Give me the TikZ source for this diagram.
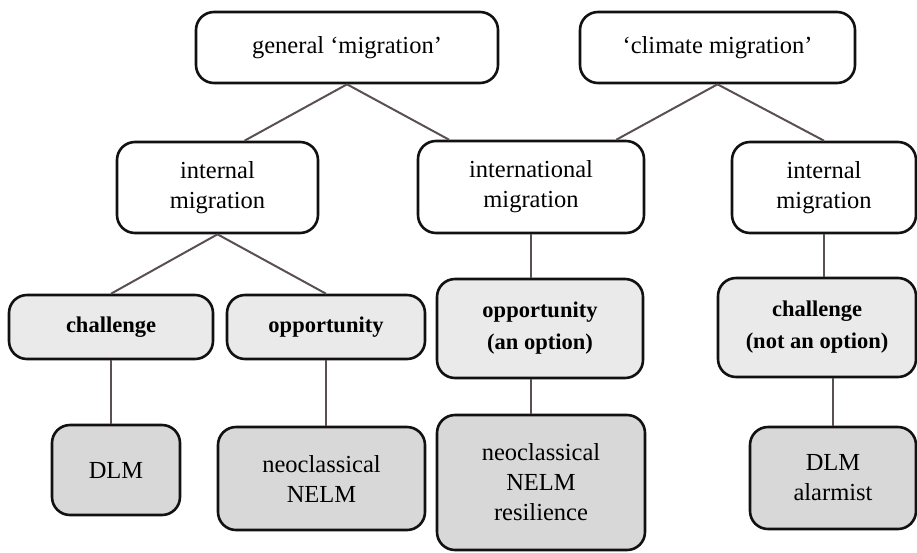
\documentclass[tikz,border=0pt]{standalone}
\usepackage{fontspec}
\setmainfont{Liberation Serif}
\definecolor{boxline}{HTML}{111111}
\definecolor{linkline}{HTML}{5A5050}
\definecolor{lightfill}{HTML}{EAEAEA}
\definecolor{darkfill}{HTML}{D8D8D8}
\tikzset{
  box/.style={draw=boxline, line width=2.6pt, rounded corners=18pt,
    align=center, inner sep=0pt,
    font=\fontsize{24.5}{30}\selectfont},
  topbox/.style={box, fill=white},
  viewbox/.style={box, fill=lightfill,
    font=\fontsize{22.5}{32}\selectfont\bfseries},
  theorybox/.style={box, fill=darkfill},
  link/.style={draw=linkline, line width=2pt}
}
\begin{document}
\begin{tikzpicture}[x=1pt, y=-1pt]
\useasboundingbox (0,0) rectangle (917,552);

% top level
\node[topbox, minimum width=302pt, minimum height=71pt] (gen)  at (347,47.5) {general ‘migration’};
\node[topbox, minimum width=275pt, minimum height=71pt] (clim) at (717.5,47.5) {‘climate migration’};

% kinds of migration
\node[topbox, minimum width=201pt, minimum height=91pt] (intL) at (217.5,187.5) {internal\\migration};
\node[topbox, minimum width=226pt, minimum height=92pt] (intl) at (531,187) {international\\migration};
\node[topbox, minimum width=184pt, minimum height=91pt] (intR) at (824,187.5) {internal\\migration};

% framings
\node[viewbox, minimum width=204pt, minimum height=64pt] (chalL) at (111,327) {challenge};
\node[viewbox, minimum width=198pt, minimum height=64pt] (oppL)  at (326,327) {opportunity};
\node[viewbox, minimum width=206pt, minimum height=99pt] (oppM)  at (540,328.5) {opportunity\\(an option)};
\node[viewbox, minimum width=198pt, minimum height=99pt] (chalR) at (817,327.5) {challenge\\(not an option)};

% theories
\node[theorybox, minimum width=128pt, minimum height=90pt]  (dlm)   at (116,470) {DLM};
\node[theorybox, minimum width=207pt, minimum height=103pt] (nelm)  at (321.5,478.5) {neoclassical\\NELM};
\node[theorybox, minimum width=208pt, minimum height=135pt] (res)   at (541,482.5) {neoclassical\\NELM\\resilience};
\node[theorybox, minimum width=166pt, minimum height=102pt] (alarm) at (833,478) {DLM\\alarmist};

% connectors
\draw[link] (gen.south) -- (intL.60);
\draw[link] (gen.south) -- (intl.150);
\draw[link] (clim.south) -- (intl.29);
\draw[link] (clim.south) -- (intR.north);

\draw[link] (intL.south) -- (chalL.north);
\draw[link] (intL.south) -- (oppL.north);
\draw[link] (intl.south) -- (intl.south |- oppM.north);
\draw[link] (intR.south) -- (intR.south |- chalR.north);

\draw[link] (chalL.south) -- (chalL.south |- dlm.north);
\draw[link] (oppL.south) -- (oppL.south |- nelm.north);
\draw[link] (oppM.south -| intl.south) -- (intl.south |- res.north);
\draw[link] (alarm.north |- chalR.south) -- (alarm.north);
\end{tikzpicture}
\end{document}
